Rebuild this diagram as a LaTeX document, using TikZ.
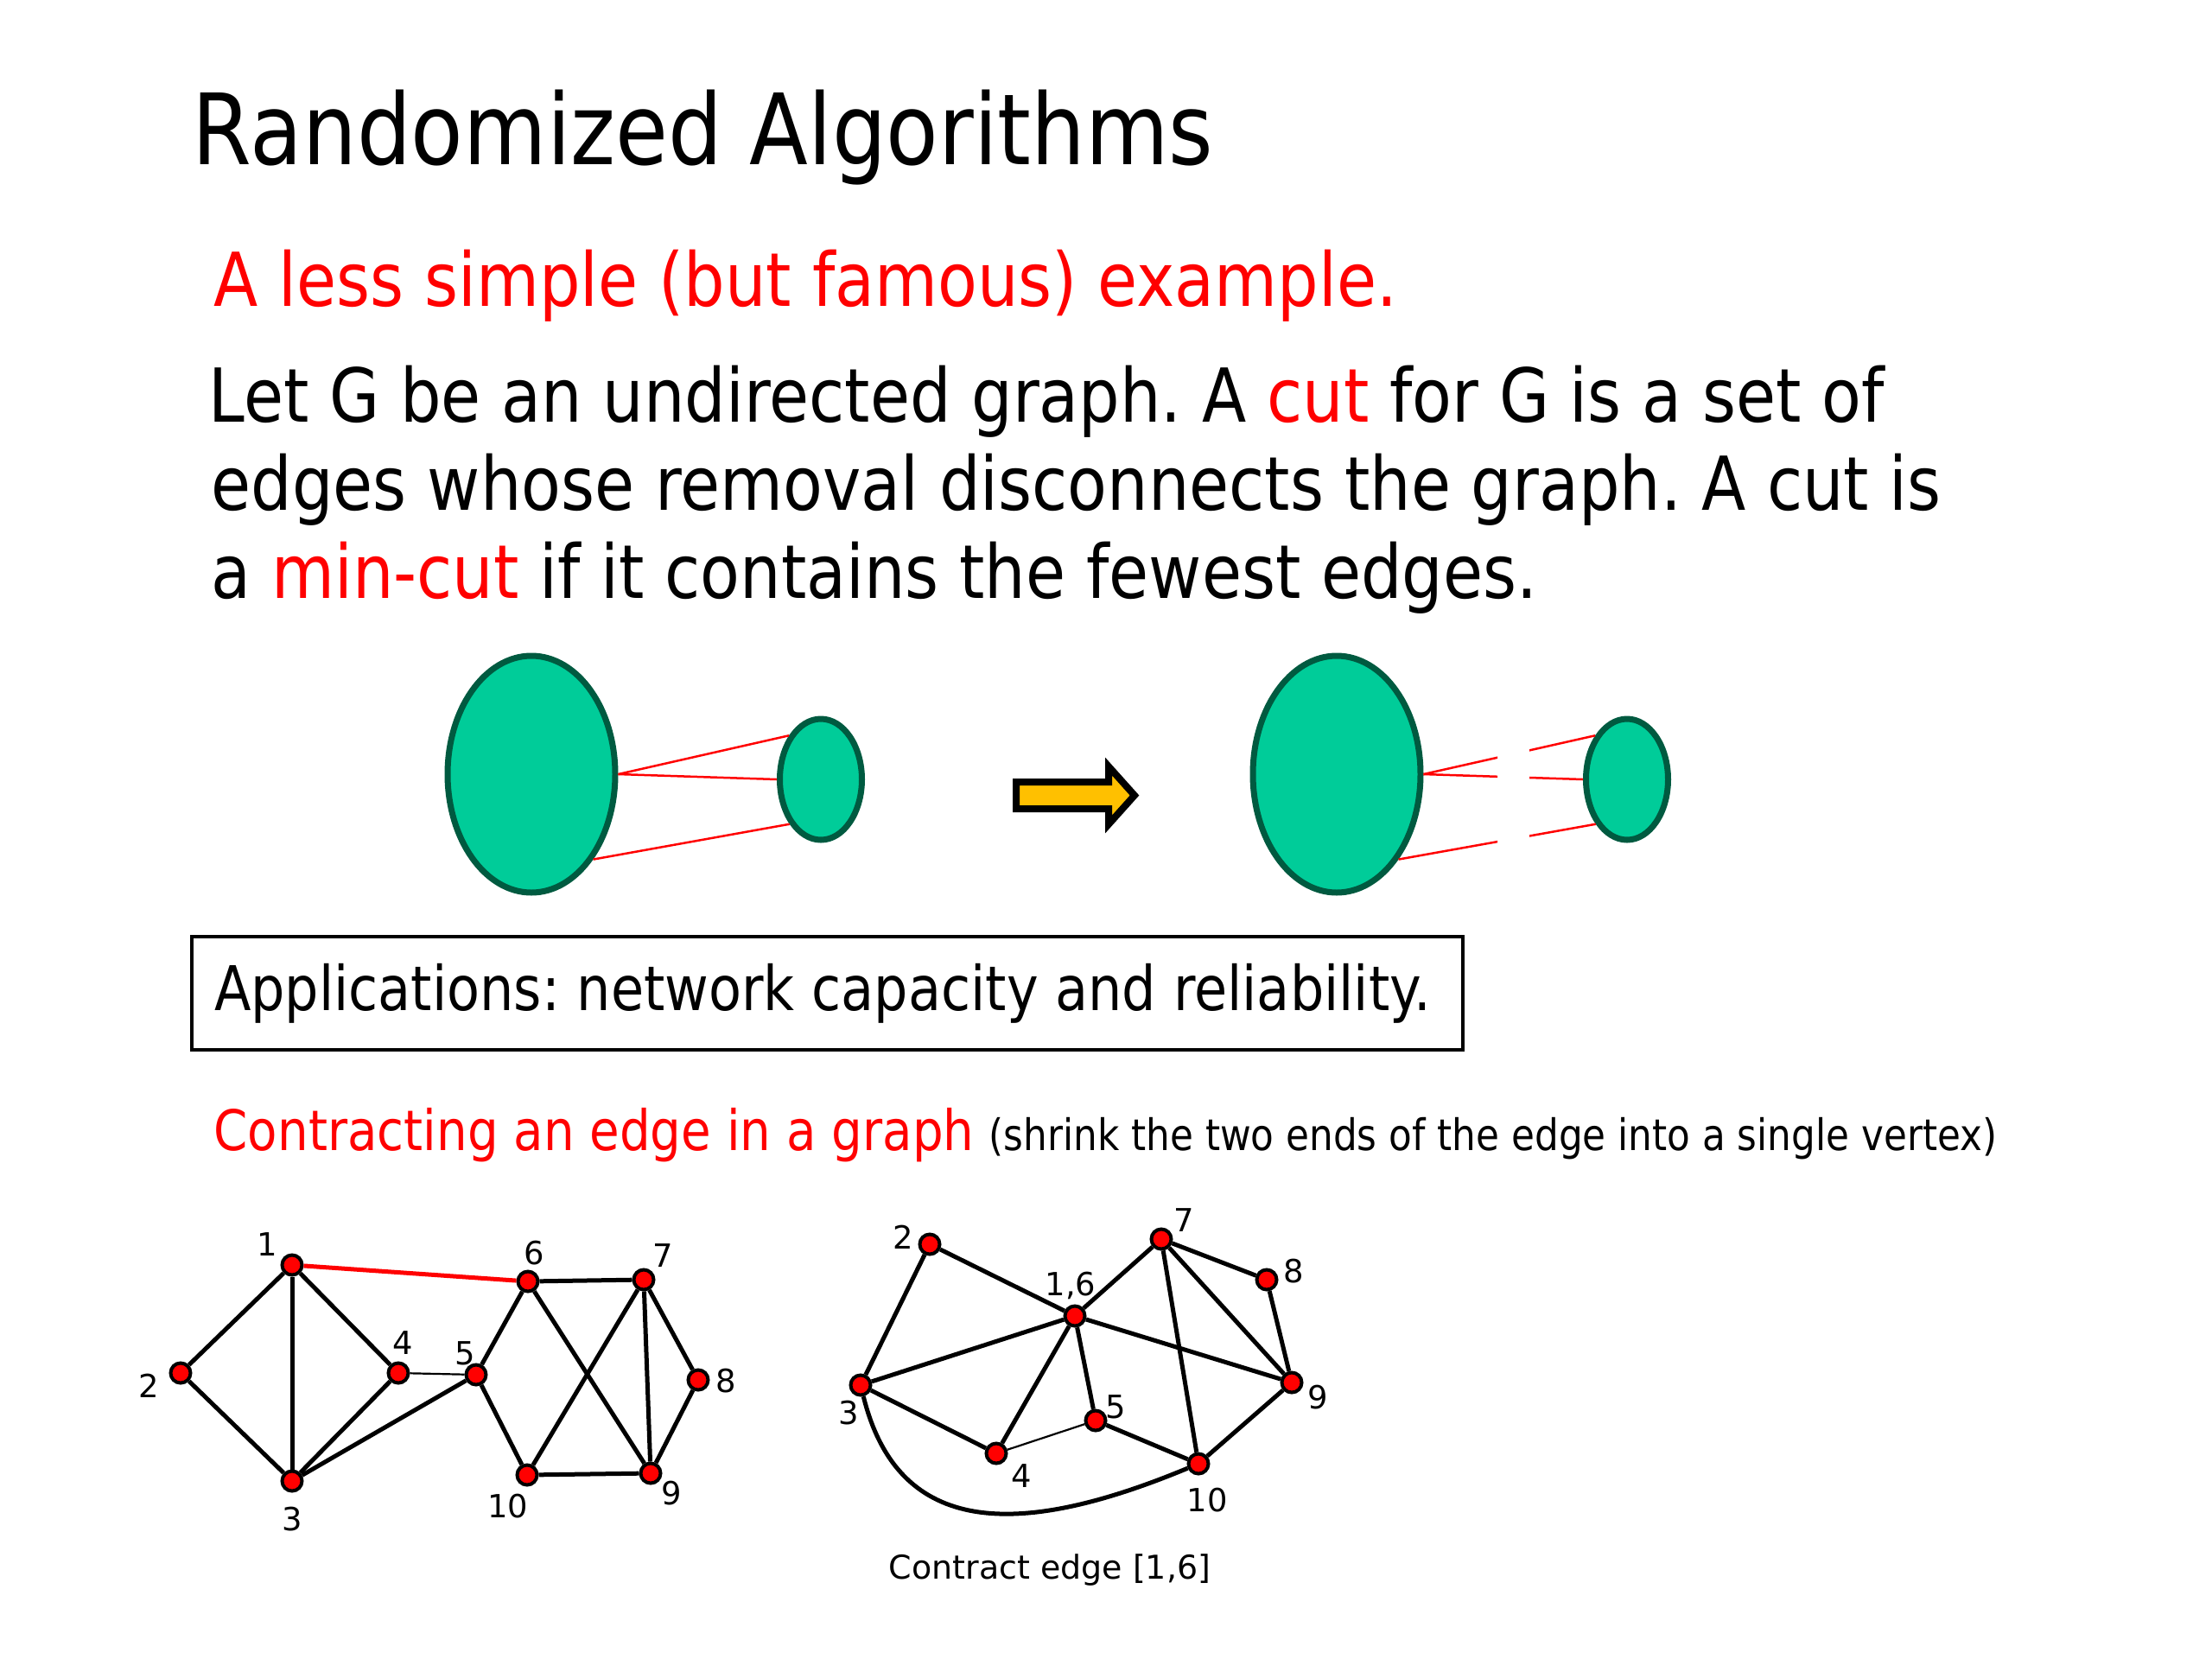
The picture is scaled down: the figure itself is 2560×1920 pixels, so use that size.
\documentclass[tikz,border=0pt]{standalone}
\usepackage{fontspec}
\setmainfont{DejaVu Sans}[FakeStretch=0.87]
\newfontfamily\lblfont{DejaVu Sans}
\usetikzlibrary{positioning, shapes.geometric}
\definecolor{cRed}{HTML}{FF0000}
\definecolor{cBlob}{HTML}{00CC99}
\definecolor{cBlobB}{HTML}{005A40}
\definecolor{cArr}{HTML}{FFC000}
\frenchspacing

\begin{document}
\begin{tikzpicture}[x=0.1mm, y=-0.1mm,
    ttl/.style={anchor=base west, inner sep=0, font=\fontsize{32.4}{38}\selectfont},
    txt/.style={anchor=base west, inner sep=0, font=\fontsize{24.5}{29}\selectfont},
    sec/.style={anchor=base west, inner sep=0, font=\fontsize{18.4}{22}\selectfont},
    note/.style={anchor=base west, inner sep=0, font=\fontsize{14.3}{17}\selectfont},
    blob/.style={ellipse, draw=cBlobB, fill=cBlob, line width=0.7mm, inner sep=0},
    cutln/.style={cRed, line width=0.25mm},
    vtx/.style={circle, draw=black, fill=cRed, line width=0.4mm, minimum size=2.3mm, inner sep=0},
    edg/.style={line width=0.5mm},
    thn/.style={line width=0.22mm},
    lbl/.style={font=\lblfont\fontsize{10.5}{12}\selectfont, inner sep=0},
]
\useasboundingbox (0,0) rectangle (2560,1920);

% === TEXT ===
\node[ttl] (title) at (222,190) {Randomized Algorithms};
\node[txt, text=cRed] (sub) at (247,354) {A less simple (but famous) example.};
\node[txt] (par1) at (241,488) {Let G be an undirected graph. A \textcolor{cRed}{cut} for G is a set of};
\node[txt] (par2) at (244,590) {edges whose removal disconnects the graph. A cut is};
\node[txt] (par3) at (244,692) {a \textcolor{cRed}{min-cut} if it contains the fewest edges.};

% === CUT PICTURE: before ===
\node[blob, minimum width=19.4mm, minimum height=27.4mm] (bigL) at (615,896) {};
\node[blob, minimum width=9.5mm, minimum height=14mm] (smallL) at (950,902) {};
\draw[cutln] (bigL.east) -- (smallL.126);
\draw[cutln] (bigL.east) -- (smallL.west);
\draw[cutln] (bigL.306) -- (smallL.235);

\draw[fill=cArr, line width=0.8mm] (1176,905) -- (1283,905) -- (1283,887) -- (1313,920.5)
    -- (1283,954) -- (1283,936) -- (1176,936) -- cycle;

% === CUT PICTURE: after ===
\node[blob, minimum width=19.4mm, minimum height=27.4mm] (bigR) at (1547,896) {};
\node[blob, minimum width=9.5mm, minimum height=14mm] (smallR) at (1883,902) {};
\begin{scope}
    \clip (1600,780) rectangle (1733,1060) (1770,780) rectangle (1910,1060);
    \draw[cutln] (bigR.east) -- (smallR.126);
    \draw[cutln] (bigR.east) -- (smallR.west);
    \draw[cutln] (bigR.306) -- (smallR.235);
\end{scope}

% === APPLICATIONS BOX ===
\node[draw, line width=0.4mm, anchor=north west, minimum height=13.1mm,
      inner xsep=2.6mm, font=\fontsize{20.3}{25}\selectfont] (apps) at (220,1082)
    {\makebox[141.9mm][l]{Applications: network capacity and reliability.}};

\node[sec, text=cRed] (contr) at (247,1331) {Contracting an edge in a graph};
\node[note, anchor=base west] (shrink) at ([xshift=1.6mm]contr.base east)
    {(shrink the two ends of the edge into a single vertex)};

% === GRAPH BEFORE ===
\node[vtx] (a1) at (338,1464) {};
\node[vtx] (a2) at (209,1589) {};
\node[vtx] (a3) at (338,1714) {};
\node[vtx] (a4) at (461,1589) {};
\node[vtx] (a5) at (551,1591) {};
\node[vtx] (a6) at (611,1483) {};
\node[vtx] (a7) at (745,1481) {};
\node[vtx] (a8) at (808,1597) {};
\node[vtx] (a9) at (753,1705) {};
\node[vtx] (a10) at (610,1707) {};

\draw[edg] (a1) -- (a2);  \draw[edg] (a1) -- (a3);  \draw[edg] (a1) -- (a4);
\draw[edg] (a2) -- (a3);  \draw[edg] (a3) -- (a4);  \draw[edg] (a3) -- (a5);
\draw[thn] (a4) -- (a5);
\draw[edg] (a5) -- (a6);  \draw[edg] (a5) -- (a10); \draw[edg] (a6) -- (a7);
\draw[edg] (a6) -- (a9);  \draw[edg] (a7) -- (a10); \draw[edg] (a7) -- (a9);
\draw[edg] (a7) -- (a8);  \draw[edg] (a8) -- (a9);  \draw[edg] (a10) -- (a9);
\draw[edg, cRed] (a1) -- (a6);

\node[lbl] (la1) at (309,1440) {1};
\node[lbl] (la2) at (172,1604) {2};
\node[lbl] (la3) at (338,1758) {3};
\node[lbl] (la4) at (466,1554) {4};
\node[lbl] (la5) at (538,1566) {5};
\node[lbl] (la6) at (618,1450) {6};
\node[lbl] (la7) at (767,1453) {7};
\node[lbl] (la8) at (840,1598) {8};
\node[lbl] (la9) at (777,1728) {9};
\node[lbl] (la10) at (588,1743) {10};

% === GRAPH AFTER ===
\node[vtx] (b2) at (1076,1440) {};
\node[vtx] (b16) at (1244,1523) {};
\node[vtx] (b7) at (1344,1434) {};
\node[vtx] (b8) at (1466,1481) {};
\node[vtx] (b3) at (996,1603) {};
\node[vtx] (b4) at (1153,1682) {};
\node[vtx] (b5) at (1268,1644) {};
\node[vtx] (b9) at (1495,1600) {};
\node[vtx] (b10) at (1387,1694) {};

\draw[edg] (b2) -- (b3);  \draw[edg] (b2) -- (b16); \draw[edg] (b3) -- (b16);
\draw[edg] (b3) -- (b4);  \draw[edg] (b16) -- (b4); \draw[edg] (b16) -- (b5);
\draw[edg] (b16) -- (b7); \draw[edg] (b16) -- (b9);
\draw[thn] (b4) -- (b5);
\draw[edg] (b5) -- (b10); \draw[edg] (b7) -- (b8);  \draw[edg] (b7) -- (b10);
\draw[edg] (b7) -- (b9);  \draw[edg] (b8) -- (b9);  \draw[edg] (b9) -- (b10);
\draw[edg] (b3) .. controls (1040,1780) and (1180,1780) .. (b10);

\node[lbl] (lb2) at (1045,1432) {2};
\node[lbl] (lb16) at (1239,1488) {1,6};
\node[lbl] (lb7) at (1370,1412) {7};
\node[lbl] (lb8) at (1497,1471) {8};
\node[lbl] (lb3) at (982,1635) {3};
\node[lbl] (lb4) at (1182,1708) {4};
\node[lbl] (lb5) at (1291,1628) {5};
\node[lbl] (lb9) at (1525,1617) {9};
\node[lbl] (lb10) at (1397,1736) {10};

\node[lbl, anchor=base, font=\lblfont\fontsize{10.8}{13}\selectfont] (cap) at (1215,1827) {Contract edge [1,6]};

\end{tikzpicture}
\end{document}
